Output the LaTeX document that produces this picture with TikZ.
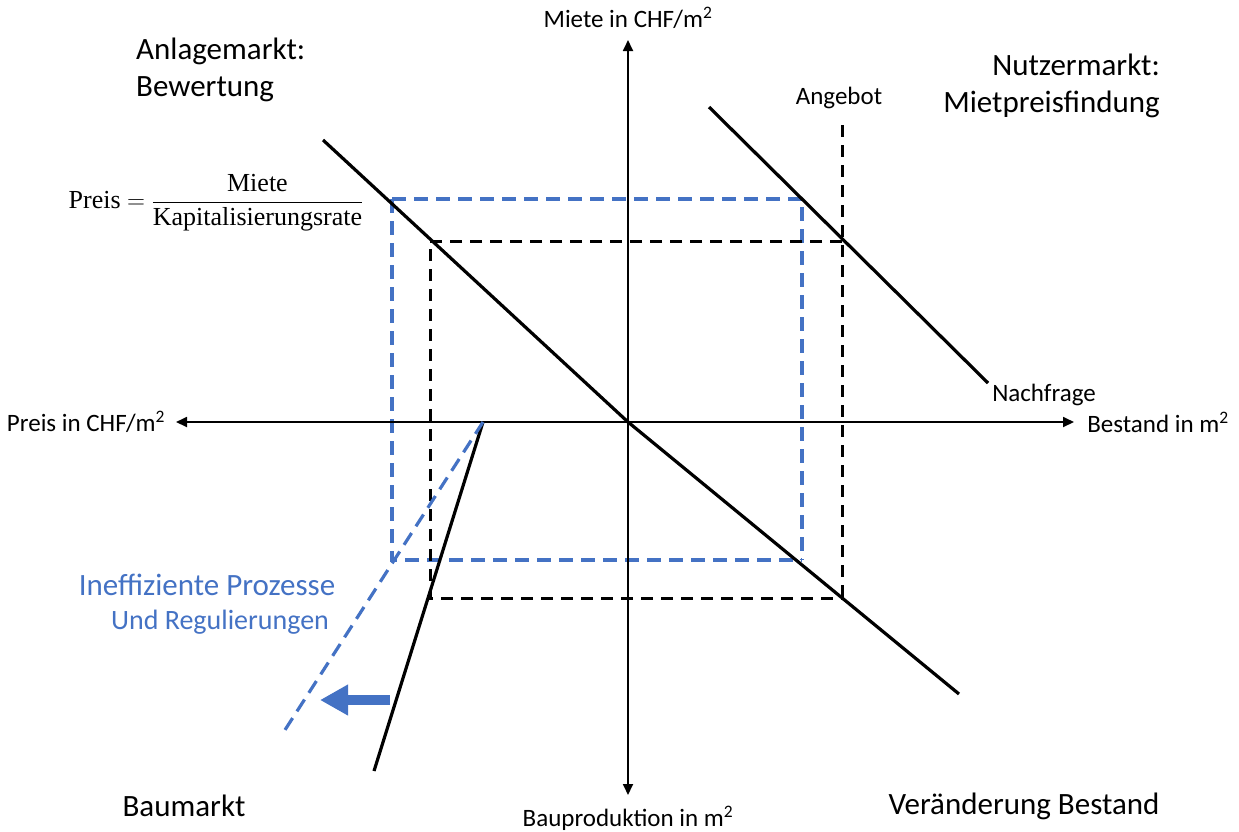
\documentclass[tikz,border=0pt]{standalone}
\usepackage{fontspec}
\setmainfont{Carlito}
\newfontfamily\formfont{Liberation Serif}
\usetikzlibrary{arrows.meta}
\definecolor{myblue}{RGB}{68,114,196}
\begin{document}
\begin{tikzpicture}[x=1pt,y=-1pt,
  axis/.style={line width=1.8pt,-{Triangle[length=11pt,width=10pt]}},
  curve/.style={line width=3.2pt},
  bdash/.style={line width=3pt,dash pattern=on 12pt off 8pt},
  bluedash/.style={draw=myblue,line width=3.2pt,dash pattern=on 14pt off 8pt},
  lbl/.style={font=\fontsize{25}{30}\selectfont,inner sep=0pt},
  big/.style={font=\fontsize{31}{37}\selectfont,inner sep=0pt},
  bluelbl/.style={font=\fontsize{31}{37}\selectfont,text=myblue,inner sep=0pt}]
\useasboundingbox (0,0) rectangle (1239,831);
% coordinates
\coordinate (O) at (628,422);
\coordinate (ytop) at (628,40);
\coordinate (ybot) at (628,795);
\coordinate (xl) at (176,422);
\coordinate (xr) at (1074,422);
\coordinate (d1) at (323,140);
\coordinate (d2) at (959,694);
\coordinate (n1) at (709,107);
\coordinate (n2) at (988,383);
\coordinate (a1) at (842,125);
\coordinate (a2) at (842,598);
\coordinate (k1) at (430,241);
\coordinate (k2) at (842,241);
\coordinate (k3) at (430,598);
\coordinate (b1) at (392,199);
\coordinate (b2) at (802,199);
\coordinate (b3) at (802,560);
\coordinate (b4) at (392,560);
\coordinate (s0) at (483,422);
\coordinate (s1) at (374,771);
\coordinate (s2) at (283,733);
\coordinate (ar1) at (390,700);
\coordinate (ar2) at (320,700);
% dashed rectangles
\draw[bluedash] (b1) -- (b2) -- (b3);
\draw[bluedash] (b1) -- (b4) -- (b3);
\draw[bdash] (k2) -- (k1) -- (k3) -- (a2);
\draw[bdash] (a1) -- (a2);
% axes
\draw[axis] (O) -- (ytop);
\draw[axis] (O) -- (ybot);
\draw[axis] (O) -- (xl);
\draw[axis] (O) -- (xr);
% curves
\draw[curve] (d1) -- (O) -- (d2);
\draw[curve] (n1) -- (n2);
\draw[curve] (s0) -- (s1);
\draw[bluedash] (s0) -- (s2);
\draw[draw=myblue,line width=10pt,-{Triangle[length=28pt,width=29pt]}] (ar1) -- (ar2);
% labels
\node[lbl] (ylab) at (628,18) {Miete in CHF/m\textsuperscript{2}};
\node[lbl] (xlabL) at (86,422) {Preis in CHF/m\textsuperscript{2}};
\node[lbl] (xlabR) at (1158,422) {Bestand in m\textsuperscript{2}};
\node[lbl] (blab) at (628,818) {Bauproduktion in m\textsuperscript{2}};
\node[lbl] (ang) at (839,98) {Angebot};
\node[lbl] (nach) at (1044,395) {Nachfrage};
\node[big,anchor=west,align=left] (anl) at (136,70) {Anlagemarkt:\\Bewertung};
\node[big,anchor=east,align=right] (nutz) at (1160,86) {Nutzermarkt:\\Mietpreisfindung};
\node[big] (bau) at (184,806) {Baumarkt};
\node[big] (ver) at (1024,806) {Veränderung Bestand};
\node[bluelbl] (ine1) at (207,585) {Ineffiziente Prozesse};
\node[bluelbl,font=\fontsize{28}{33}\selectfont] (ine2) at (220,622) {Und Regulierungen};
\node[inner sep=0pt,font=\fontsize{26}{30}\selectfont] (form) at (216,203)
  {\formfont Preis $=$ $\displaystyle\frac{\mbox{\formfont Miete}}{\mbox{\formfont Kapitalisierungsrate}}$};
\end{tikzpicture}
\end{document}
